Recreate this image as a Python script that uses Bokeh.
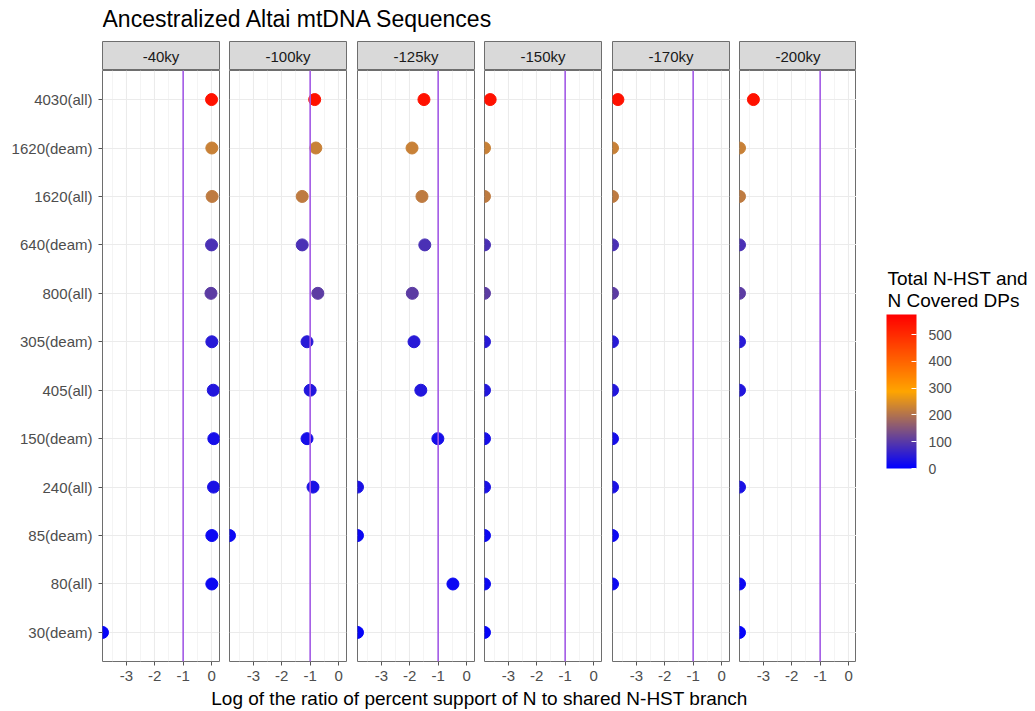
from bokeh.plotting import figure
from bokeh.layouts import row, column
from bokeh.models import (Range1d, FixedTicker, ColumnDataSource, LinearColorMapper,
                          ColorBar, Span, Label)
from bokeh.embed import file_html
from bokeh.resources import INLINE
from bokeh.core.properties import value

# ---------------------------------------------------------------- data
title_text = "Ancestralized Altai mtDNA Sequences"
x_title = "Log of the ratio of percent support of N to shared N-HST branch"
legend_title = "Total N-HST and\nN Covered DPs"

samples = ["4030(all)", "1620(deam)", "1620(all)", "640(deam)", "800(all)", "305(deam)",
           "405(all)", "150(deam)", "240(all)", "85(deam)", "80(all)", "30(deam)"]
facets = ["-40ky", "-100ky", "-125ky", "-150ky", "-170ky", "-200ky"]

NEG = float("-inf")   # log of zero support
NA = None             # no value for that sample

ratio_40 = [0.00, 0.01, 0.02, 0.00, -0.02, 0.01, 0.06, 0.08, 0.07, 0.01, 0.01, NEG]
ratio_100 = [-0.84, -0.80, -1.28, -1.28, -0.73, -1.11, -1.00, -1.11, -0.90, NEG, NA, NA]
ratio_125 = [-1.50, -1.92, -1.57, -1.47, -1.91, -1.85, -1.61, -1.01, NEG, NEG, -0.48, NEG]
ratio_150 = [-3.64, NEG, NEG, NEG, NEG, NEG, NEG, NEG, NEG, NEG, NEG, NEG]
ratio_170 = [-3.65, NEG, NEG, NEG, NEG, NEG, NEG, NEG, NEG, NEG, NEG, NA]
ratio_200 = [-3.35, NEG, NEG, NEG, NEG, NEG, NEG, NA, NEG, NA, NEG, NEG]
ratios = [ratio_40, ratio_100, ratio_125, ratio_150, ratio_170, ratio_200]

# total N-HST and N covered diagnostic positions per sample
covered_dps = [545, 225, 215, 85, 105, 45, 40, 25, 30, 15, 15, 8]

x_ticks = [-3, -2, -1, 0]
x_tick_labels = ["-3", "-2", "-1", "0"]
x_minor = [-3.5, -2.5, -1.5, -0.5]
legend_ticks = [0, 100, 200, 300, 400, 500]
ref_line = -1

# ---------------------------------------------------------------- style
FONT = "Liberation Sans"
X_LO, X_HI = -3.84, 0.28
N = len(samples)


def ramp(stops, n=256):
    out = []
    segs = len(stops) - 1
    for k in range(n):
        t = k / (n - 1) * segs
        s = min(int(t), segs - 1)
        f = t - s
        a, b = stops[s], stops[s + 1]
        c = [round(a[j] + (b[j] - a[j]) * f) for j in range(3)]
        out.append("#%02x%02x%02x" % tuple(c))
    return out


palette = ramp([(0, 0, 255), (255, 165, 0), (255, 0, 0)])
mapper = LinearColorMapper(palette=palette, low=0, high=575)

FRAME_W, FRAME_H = 117, 591
STRIP_H = 29
BOTTOM = 27
FOOT_H = 711 - 41 - STRIP_H - FRAME_H - BOTTOM
lefts = [102, 0, 0, 0, 0, 0]
rights = [10, 11, 10, 11, 10, 0]

y_pos = [N - 1 - i for i in range(N)]

columns = []
for i, facet in enumerate(facets):
    w = lefts[i] + FRAME_W + rights[i]

    # facet strip
    s = figure(width=w, height=STRIP_H, x_range=Range1d(0, 1), y_range=Range1d(0, 1),
               output_backend="svg", toolbar_location=None,
               min_border_left=lefts[i], min_border_right=rights[i],
               min_border_top=0, min_border_bottom=0)
    s.axis.visible = False
    s.grid.visible = False
    s.background_fill_color = "#D9D9D9"
    s.border_fill_color = "white"
    s.outline_line_color = "#6e6e6e"
    s.outline_line_width = 1
    s.text(x=[0.5], y=[0.5], text=[facet], text_align="center", text_baseline="middle",
           text_font=value(FONT), text_font_size="15px", text_color="#1A1A1A")

    # panel
    p = figure(width=w, height=FRAME_H + BOTTOM,
               x_range=Range1d(X_LO, X_HI), y_range=Range1d(-0.6, N - 0.4),
               output_backend="svg", toolbar_location=None,
               min_border_left=lefts[i], min_border_right=rights[i],
               min_border_top=0, min_border_bottom=BOTTOM)
    p.background_fill_color = "white"
    p.outline_line_color = "#6e6e6e"
    p.outline_line_width = 1

    xt = FixedTicker(ticks=x_ticks, minor_ticks=x_minor)
    yt = FixedTicker(ticks=y_pos)
    p.xaxis.ticker = xt
    p.xgrid.ticker = xt
    p.yaxis.ticker = yt
    p.ygrid.ticker = yt
    p.xgrid.grid_line_color = "#EBEBEB"
    p.xgrid.grid_line_width = 1.1
    p.xgrid.minor_grid_line_color = "#F3F3F3"
    p.xgrid.minor_grid_line_width = 0.9
    p.ygrid.grid_line_color = "#EBEBEB"
    p.ygrid.grid_line_width = 1.1

    for ax in (p.xaxis[0], p.yaxis[0]):
        ax.axis_line_color = None
        ax.major_tick_line_color = "#555555"
        ax.major_tick_out = 4
        ax.major_tick_in = 0
        ax.minor_tick_line_color = None
        ax.major_label_text_font = FONT
        ax.major_label_text_font_size = "15px"
        ax.major_label_text_color = "#4D4D4D"
    p.xaxis.major_label_standoff = 5
    p.yaxis.major_label_standoff = 6
    p.xaxis.major_label_overrides = dict(zip(x_ticks, x_tick_labels))
    p.yaxis.major_label_overrides = {y_pos[k]: samples[k] for k in range(N)}
    if i > 0:
        p.yaxis.visible = False

    p.add_layout(Span(location=ref_line, dimension="height", line_color="#A35AE6",
                      line_width=1.6))

    xs, ys, cs = [], [], []
    for k, v in enumerate(ratios[i]):
        if v is None:
            continue
        xs.append(max(v, X_LO))
        ys.append(y_pos[k])
        cs.append(covered_dps[k])
    src = ColumnDataSource(dict(x=xs, y=ys, dps=cs))
    p.scatter("x", "y", source=src, size=12,
              fill_color={"field": "dps", "transform": mapper},
              line_color={"field": "dps", "transform": mapper})

    columns.append(column(s, p, spacing=0))

# ---------------------------------------------------------------- legend
LEG_W = 1035 - 856
LEG_H = STRIP_H + FRAME_H + BOTTOM
leg = figure(width=LEG_W, height=LEG_H, x_range=Range1d(0, LEG_W), y_range=Range1d(LEG_H, 0),
             output_backend="svg", toolbar_location=None,
             min_border_left=0, min_border_right=0, min_border_top=0, min_border_bottom=0)
leg.axis.visible = False
leg.grid.visible = False
leg.outline_line_color = None
leg.add_layout(Label(x=31, y=226, text=legend_title, text_font=FONT, text_font_size="19px",
                     text_color="black", text_baseline="top", text_line_height=1.05))
cb = ColorBar(color_mapper=mapper, ticker=FixedTicker(ticks=legend_ticks),
              width=30, height=154, location=(30, LEG_H - 427), padding=0, margin=0,
              major_tick_line_color="white", major_tick_in=5, major_tick_out=0,
              minor_tick_line_color=None, bar_line_color=None,
              major_label_text_font=FONT, major_label_text_font_size="14px",
              major_label_text_color="#4D4D4D", label_standoff=12,
              background_fill_color=None, border_line_color=None)
leg.add_layout(cb)

# ---------------------------------------------------------------- header / footer
head = figure(width=1035, height=41, x_range=Range1d(0, 1), y_range=Range1d(0, 1),
              output_backend="svg", toolbar_location=None,
              min_border_left=100, min_border_right=0, min_border_top=0, min_border_bottom=0)
head.axis.visible = False
head.grid.visible = False
head.outline_line_color = None
head.text(x=[0], y=[0.55], text=[title_text], text_align="left", text_baseline="middle",
          text_font=value(FONT), text_font_size="23px", text_color="black")

foot = figure(width=856, height=FOOT_H, x_range=Range1d(0, 1), y_range=Range1d(0, 1),
              output_backend="svg", toolbar_location=None,
              min_border_left=102, min_border_right=0, min_border_top=0, min_border_bottom=0)
foot.axis.visible = False
foot.grid.visible = False
foot.outline_line_color = None
foot.text(x=[0.5], y=[0.55], text=[x_title], text_align="center", text_baseline="middle",
          text_font=value(FONT), text_font_size="19px", text_color="black")

layout = column(head, row(*columns, leg, spacing=0), foot, spacing=0)

with open("out.html", "w") as fh:
    fh.write(file_html(layout, INLINE))
